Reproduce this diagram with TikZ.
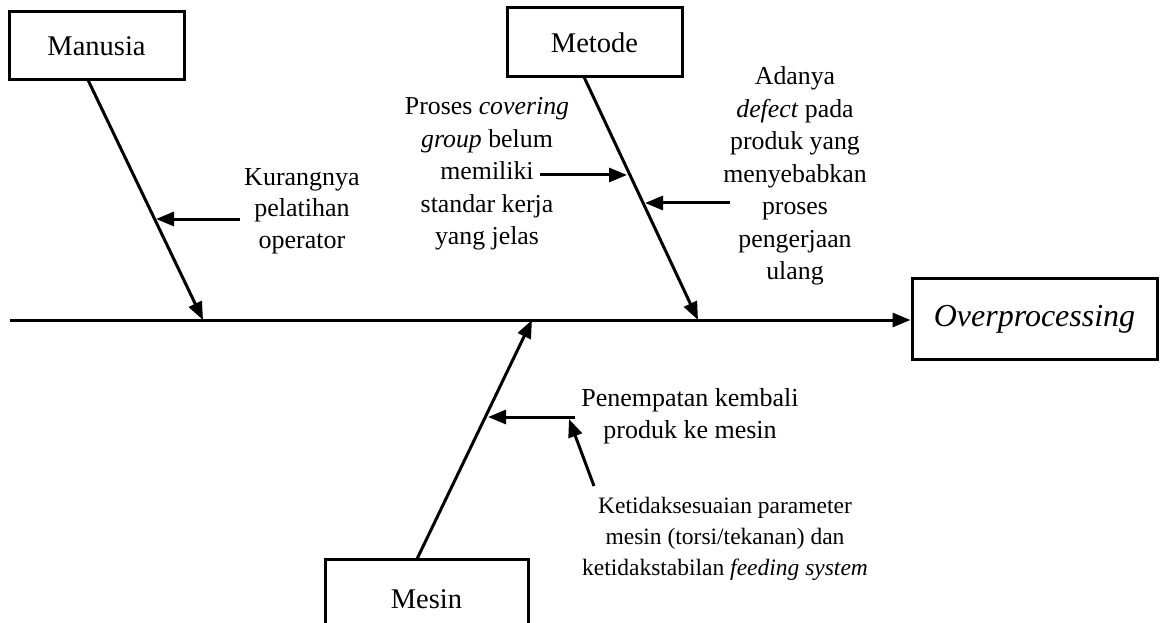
\documentclass[tikz,border=0pt]{standalone}
\usepackage{fontspec}
\setmainfont{Liberation Serif}
\usetikzlibrary{arrows.meta}
\begin{document}
\begin{tikzpicture}[x=1pt,y=-1pt,
  line width=3pt,
  catbox/.style={draw,line width=3pt,minimum width=175pt,minimum height=68pt,
    font=\fontsize{28.5}{34}\selectfont,inner sep=0pt},
  cause/.style={align=center,font=\fontsize{25.8}{32.5}\selectfont,inner sep=0pt},
  arr/.style={-{Triangle[length=18pt,width=14pt]},line width=3pt},
]
\useasboundingbox (0,0) rectangle (1160,623);
% category boxes
\node[catbox] (man) at (96.5,46) {Manusia};
\node[catbox,minimum height=69pt] (met) at (594.5,42.5) {Metode};
\node[catbox,minimum width=203pt,minimum height=80pt] (mes) at (426.5,599) {Mesin};
\node[draw,line width=3pt,minimum width=245pt,minimum height=81pt,inner sep=0pt,
  font=\fontsize{32}{38}\selectfont\itshape] (eff) at (1034.5,319) {Overprocessing};
% spine
\coordinate (spineL) at (10,320);
\draw[arr] (spineL) -- (spineL -| eff.west);
% bone coordinates
\coordinate (bMan) at (88,80);
\coordinate (jMan) at (203,320);
\coordinate (bMet) at (584,77);
\coordinate (jMet) at (698,320);
\coordinate (bMes) at (417,559);
\coordinate (jMes) at (532,320);
\draw[arr] (bMan) -- (jMan);
\draw[arr] (bMet) -- (jMet);
\draw[arr] (bMes) -- (jMes);
% cause texts
\node[cause,font=\fontsize{26}{31.5}\selectfont] (c1) at (302,211) {Kurangnya\\pelatihan\\operator};
\node[cause] (c2) at (487,174) {Proses \textit{covering}\\\textit{group} belum\\memiliki\\standar kerja\\yang jelas};
\node[cause] (c3) at (795,176) {Adanya\\\textit{defect} pada\\produk yang\\menyebabkan\\proses\\pengerjaan\\ulang};
\node[cause,font=\fontsize{26}{32}\selectfont] (c4) at (690,416) {Penempatan kembali\\produk ke mesin};
\node[cause,font=\fontsize{23.5}{31}\selectfont] (c5) at (725,539) {Ketidaksesuaian parameter\\mesin (torsi/tekanan) dan\\ketidakstabilan \textit{feeding system}};
% cause arrows
\coordinate (s1) at (240,219); \coordinate (t1) at (156,219);
\coordinate (s2) at (540,175); \coordinate (t2) at (627,175);
\coordinate (s3) at (730,203); \coordinate (t3) at (645,203);
\coordinate (s4) at (575,417); \coordinate (t4) at (488,417);
\coordinate (s5) at (594,486); \coordinate (t5) at (569,419);
\draw[arr] (s1) -- (t1);
\draw[arr] (s2) -- (t2);
\draw[arr] (s3) -- (t3);
\draw[arr] (s4) -- (t4);
\draw[arr] (s5) -- (t5);
\end{tikzpicture}
\end{document}
